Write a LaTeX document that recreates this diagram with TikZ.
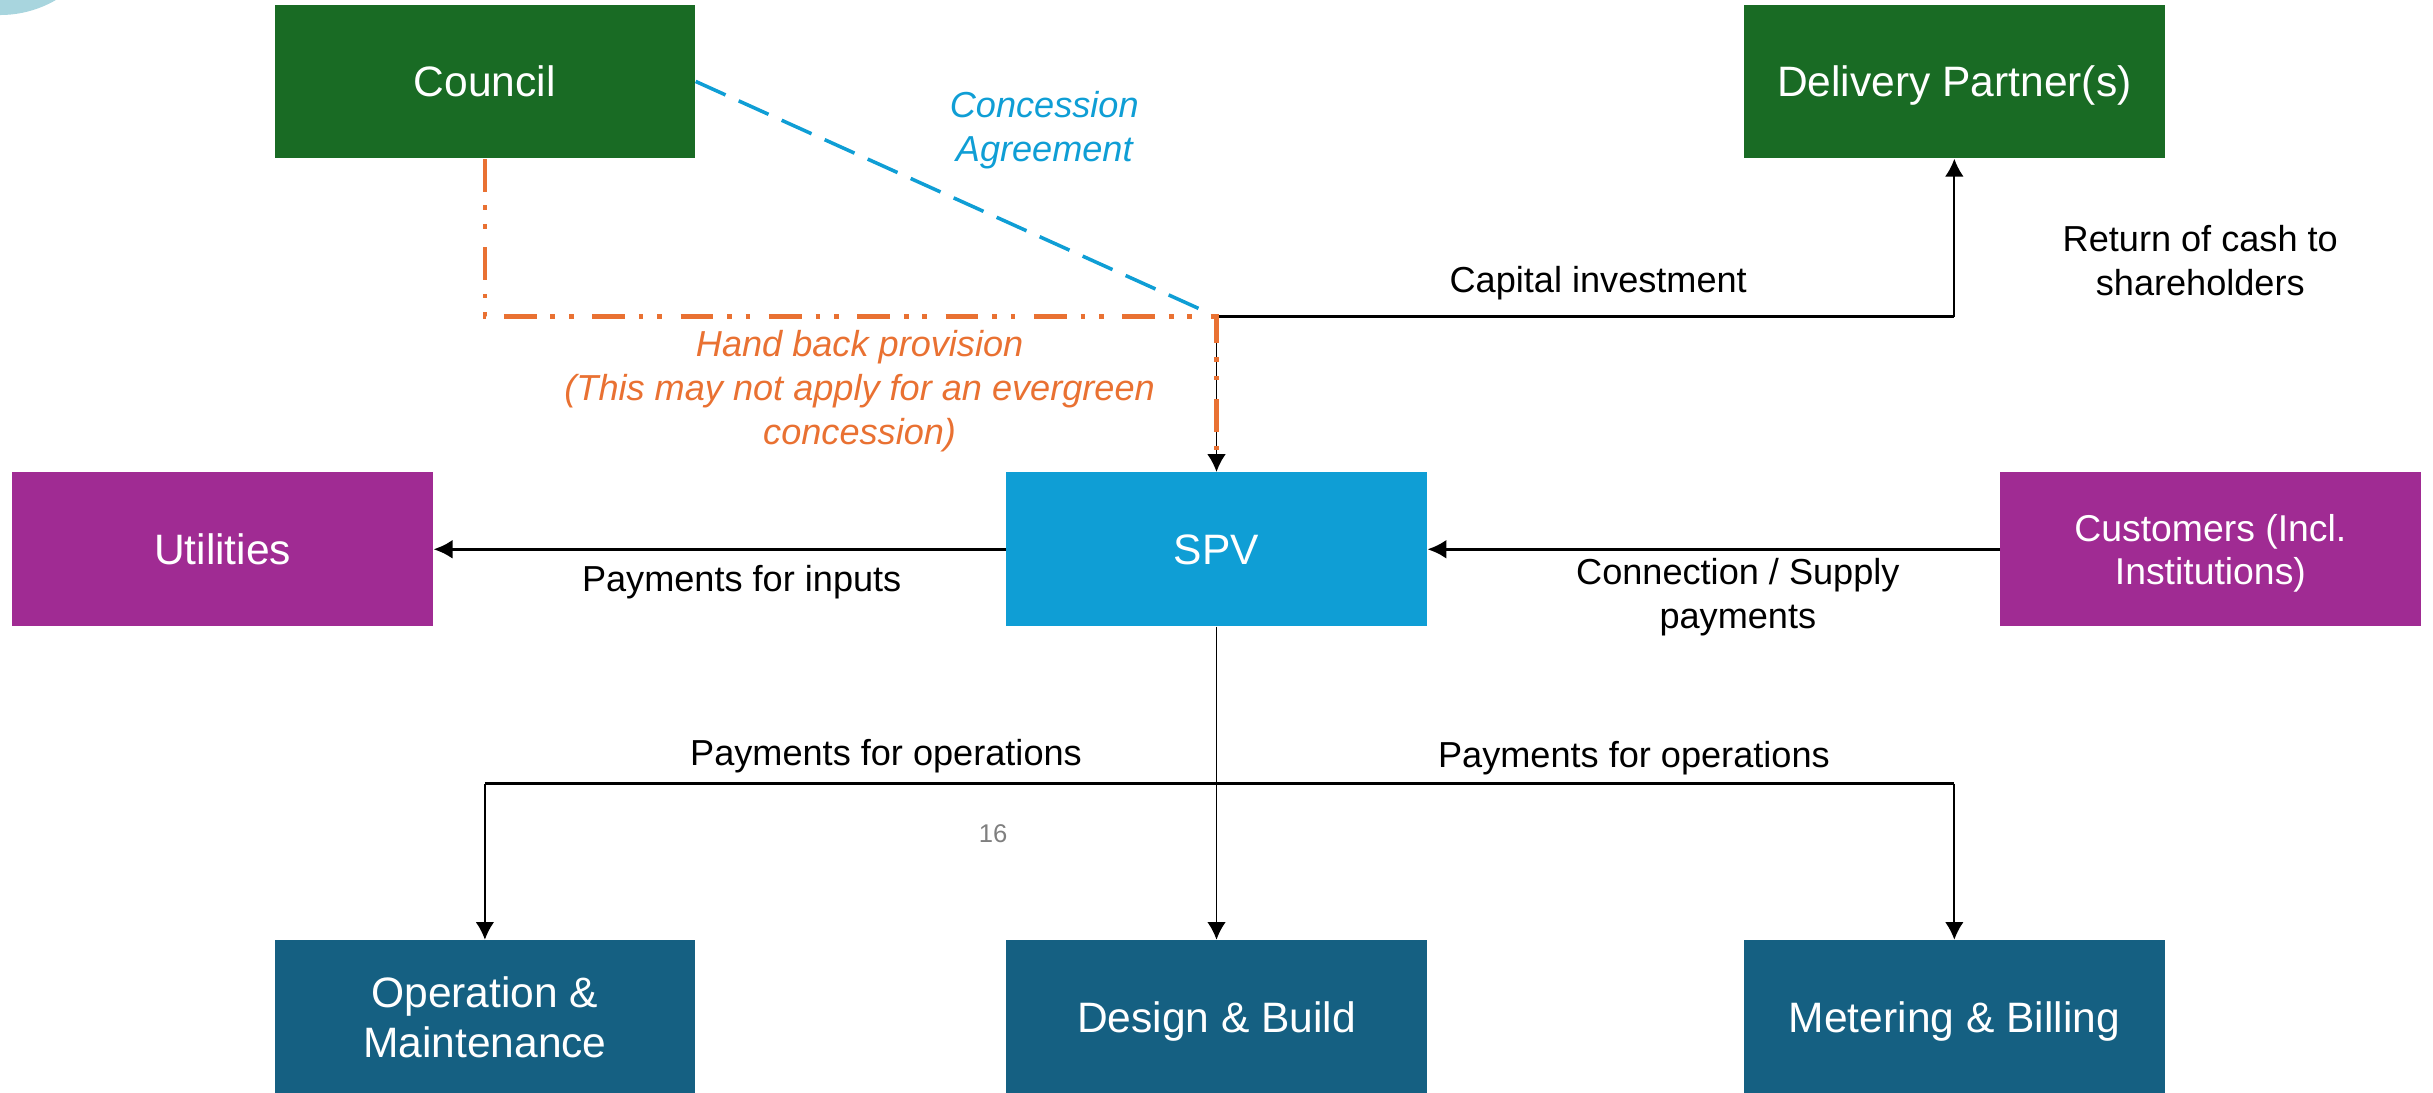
\documentclass[tikz,border=0pt]{standalone}
\usepackage{fontspec}
\setmainfont{Liberation Sans}
\usetikzlibrary{arrows.meta}
\definecolor{councilgreen}{HTML}{196B24}
\definecolor{spvblue}{HTML}{0F9ED5}
\definecolor{custpurple}{HTML}{A02B93}
\definecolor{opsteal}{HTML}{156082}
\definecolor{handorange}{HTML}{E97132}
\definecolor{arcblue}{HTML}{A8D5DE}
\definecolor{pagegrey}{HTML}{7F7F7F}
\newcommand{\boxfont}{\fontsize{15.6pt}{18.2pt}\selectfont}
\newcommand{\custfont}{\fontsize{13.7pt}{16pt}\selectfont}
\newcommand{\labelfont}{\fontsize{13.25pt}{16.2pt}\selectfont}

\begin{document}
\begin{tikzpicture}
\tikzstyle{party}=[rectangle, minimum width=5.42cm, minimum height=1.98cm, inner sep=0pt, text depth=0pt, text=white, align=center, font=\boxfont]
\tikzstyle{connect}=[-{Latex[length=6.5pt, width=6.8pt]}, line width=0.65pt]
\tikzstyle{flow}=[line width=1.25pt]
\tikzstyle{note}=[align=center, font=\labelfont]
\tikzstyle{concession}=[spvblue, line width=1.3pt, dash pattern=on 12pt off 5.3pt]
\tikzstyle{handback}=[handorange, line width=1.5pt, dash pattern=on 12pt off 5.1pt on 1.7pt off 5.1pt on 1.7pt off 6.8pt]

\useasboundingbox (0,0) rectangle (31.36,-14.076);
\fill[arcblue] (0,1.24) circle (1.434);

\node[party, fill=councilgreen] at (6.25,-1.05) (council) {Council};
\node[party, fill=councilgreen] at (25.19,-1.05) (partners) {Delivery Partner(s)};
\node[party, fill=custpurple] at (2.87,-7.08) (utilities) {Utilities};
\node[party, fill=spvblue] at (15.68,-7.08) (spv) {SPV};
\node[party, fill=custpurple, font=\custfont] at (28.49,-7.08) (customers) {Customers (Incl.\\Institutions)};
\node[party, fill=opsteal] at (6.25,-13.11) (om) {Operation \&\\Maintenance};
\node[party, fill=opsteal] at (15.68,-13.11) (build) {Design \& Build};
\node[party, fill=opsteal] at (25.19,-13.11) (metering) {Metering \& Billing};

\coordinate (hub) at (15.68,-4.08);
\coordinate (split) at (15.68,-10.1);
\coordinate (dpcorner) at (hub -| partners.south);

% money flows
\path (hub) edge [flow] (dpcorner);
\path (dpcorner) edge [connect] (partners.south);
\path (hub) edge [connect] (spv.north);
\path (spv.west) edge [flow, -{Latex[length=7pt, width=7pt]}] (utilities.east);
\path (customers.west) edge [flow, -{Latex[length=7pt, width=7pt]}] (spv.east);
\path (spv.south) edge [line width=0.65pt] (split);
\path (split -| om) edge [flow] (split -| metering);
\path (split -| om) edge [connect] (om.north);
\path (split) edge [connect] (build.north);
\path (split -| metering) edge [connect] (metering.north);

% agreements
\draw[concession, shorten >=0.14cm] (council.east) -- (hub);
\draw[handback] (council.south) |- (hub) -- ([yshift=0.22cm]spv.north);

\node[note, text=spvblue, font=\labelfont\itshape] at (13.46,-1.68) (concessionlbl) {Concession\\Agreement};
\node[note, text=handorange, font=\labelfont\itshape] at (11.08,-5.04) (handbacklbl) {Hand back provision\\(This may not apply for an evergreen\\concession)};
\node[note] at (20.6,-3.65) (capitallbl) {Capital investment};
\node[note] at (28.36,-3.36) (returnlbl) {Return of cash to\\shareholders};
\node[note] at (9.56,-7.5) (inputslbl) {Payments for inputs};
\node[note] at (22.4,-7.7) (supplylbl) {Connection / Supply\\payments};
\node[note] at (11.42,-9.75) (opsleftlbl) {Payments for operations};
\node[note] at (21.06,-9.77) (opsrightlbl) {Payments for operations};
\node[text=pagegrey, font=\fontsize{9.4pt}{11pt}\selectfont] at (12.8,-10.74) (pagenum) {16};
\end{tikzpicture}
\end{document}
